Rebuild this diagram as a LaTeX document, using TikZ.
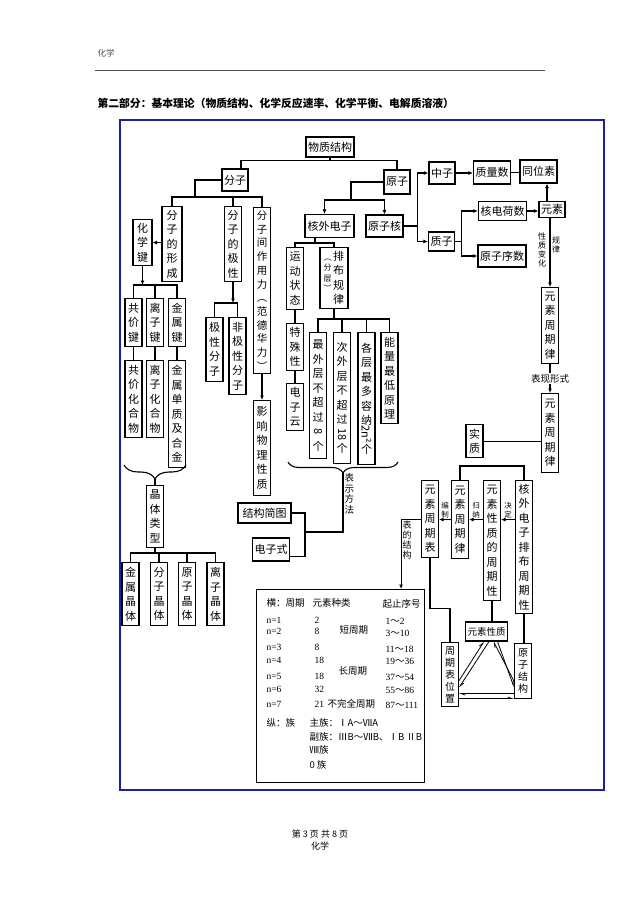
\documentclass[tikz,border=0pt]{standalone}
\usepackage{fontspec}
\usepackage{graphicx}
\setmainfont{Noto Sans CJK SC}
\newfontfamily\tnr{Liberation Serif}
\usetikzlibrary{arrows.meta,decorations.pathreplacing}
\definecolor{frameblue}{HTML}{1C1CA8}
\definecolor{headgray}{HTML}{505050}
\tikzset{
    hbox/.style={
        draw, line width=1.1pt, inner xsep=2pt, inner ysep=1pt,
        minimum height=22pt, font=\fontsize{11}{13}\selectfont
    },
    vbox/.style={
        draw, line width=1.1pt, anchor=north, align=center,
        inner xsep=2.5pt, inner ysep=2pt, minimum width=17pt,
        font=\fontsize{11}{14.5}\selectfont
    },
    vsmall/.style={vbox, font=\fontsize{10}{12}\selectfont},
    note/.style={inner sep=1pt, align=center, font=\fontsize{8}{9}\selectfont},
    notes/.style={inner sep=1pt, align=center, font=\fontsize{7.5}{8.5}\selectfont},
    notem/.style={inner sep=1pt, align=center, font=\fontsize{9.5}{10.5}\selectfont},
    tabtxt/.style={anchor=base west, inner sep=0pt, font=\fontsize{9.5}{11}\selectfont},
    arr/.style={-{Latex[length=4.5pt,width=4pt]}},
    harpend/.style={line width=0.8pt, -{Straight Barb[harpoon,length=4pt,width=3pt]}},
    harpstart/.style={line width=0.8pt, {Straight Barb[harpoon,length=4pt,width=3pt]}-},
    brc/.style={decorate, decoration={brace, mirror, amplitude=#1}},
}

\begin{document}
\begin{tikzpicture}[x=1pt, y=-1pt, line width=1.1pt]
    \useasboundingbox (0,0) rectangle (640,905);
    \fill[white] (0,0) rectangle (640,905);

    % page head and frame
    \node[anchor=west, inner sep=0, text=headgray, font=\fontsize{8.5}{10}\selectfont] (hdr) at (97,53) {化学};
    \draw[headgray, line width=1.7pt] (95,70.5) -- (545,70.5);
    \node[anchor=west, inner sep=0, font=\fontsize{10.8}{13}\selectfont\bfseries] (ttl) at (97,103)
        {第二部分：基本理论（物质结构、化学反应速率、化学平衡、电解质溶液）};
    \draw[frameblue, line width=2.6pt] (120,120) rectangle (604,790);
    \node[inner sep=0, font=\fontsize{9}{10}\selectfont] (pgno) at (320,834) {第 3 页 共 8 页};
    \node[inner sep=0, font=\fontsize{9}{10}\selectfont] (ftr) at (320,846) {化学};

    % top
    \node[hbox, minimum width=48pt, minimum height=20pt] (wzjg) at (330,147) {物质结构};
    \node[hbox, minimum width=26pt] (fz) at (235,180) {分子};
    \node[hbox, minimum width=24pt, minimum height=24pt] (yz) at (397,182) {原子};

    % molecule side
    \node[vbox, minimum height=75pt, minimum width=20pt] (fzdxc) at (172,206) {分\\子\\的\\形\\成};
    \node[vbox, minimum height=75pt] (fzdjx) at (233,206) {分\\子\\的\\极\\性};
    \node[vbox, minimum height=166pt, font=\fontsize{10.5}{13.7}\selectfont] (fzjzy) at (262,207)
        {分\\子\\间\\作\\用\\力\\︵\\范\\德\\华\\力\\︶};
    \node[vbox, minimum height=95pt] (yxwl) at (262,400) {影\\响\\物\\理\\性\\质};
    \node[vbox, minimum height=46pt, minimum width=19pt] (hxj) at (142.5,219) {化\\学\\键};
    \node[vbox, minimum height=48pt] (gjj) at (133.5,298) {共\\价\\键};
    \node[vbox, minimum height=48pt] (lzj) at (155,298) {离\\子\\键};
    \node[vbox, minimum height=48pt] (jsj) at (177,298) {金\\属\\键};
    \node[vbox, minimum height=77pt] (gjhhw) at (133.5,360) {共\\价\\化\\合\\物};
    \node[vbox, minimum height=77pt] (lzhhw) at (155,360) {离\\子\\化\\合\\物};
    \node[vbox, minimum height=107pt] (jsdz) at (177,360) {金\\属\\单\\质\\及\\合\\金};
    \node[vbox, minimum height=62pt] (jtlx) at (155,485) {晶\\体\\类\\型};
    \node[vbox, minimum height=63pt] (jsjt) at (130.5,562) {金\\属\\晶\\体};
    \node[vbox, minimum height=63pt] (fzjt) at (159,562) {分\\子\\晶\\体};
    \node[vbox, minimum height=63pt] (yzjt) at (187,562) {原\\子\\晶\\体};
    \node[vbox, minimum height=63pt] (lzjt) at (215.5,562) {离\\子\\晶\\体};
    \node[vbox, minimum height=64pt] (jxfz) at (214.5,317) {极\\性\\分\\子};
    \node[vbox, minimum height=77pt] (fjxfz) at (237.5,317) {非\\极\\性\\分\\子};

    % electrons
    \node[hbox, minimum width=49pt, minimum height=23pt] (hwdz) at (329.5,226) {核外电子};
    \node[hbox, minimum width=37pt] (yzh) at (384.5,226) {原子核};
    \node[vbox, minimum height=62pt] (ydzt) at (295,247) {运\\动\\状\\态};
    \node[draw, line width=1.1pt, anchor=north, inner xsep=2pt, inner ysep=2pt,
        minimum width=28pt, minimum height=61pt, font=\fontsize{11}{14.5}\selectfont] (pbgl) at (334,247)
        {\parbox[t]{9pt}{\centering\fontsize{8}{10.5}\selectfont ︵\\分\\层\\︶}\parbox[t]{13pt}{\centering 排\\布\\规\\律}};
    \node[vbox, minimum height=47pt] (tsx) at (295,323) {特\\殊\\性};
    \node[vbox, minimum height=47pt] (dzy) at (295,383) {电\\子\\云};
    \node[vbox, minimum height=126pt] (zwc) at (318,332) {最\\外\\层\\不\\超\\过\\\rotatebox[origin=c]{-90}{8}\\个};
    \node[vbox, minimum height=131pt] (cwc) at (342,332) {次\\外\\层\\不\\超\\过\\\rotatebox[origin=c]{-90}{18}\\个};
    \node[vbox, minimum height=132pt] (gczd) at (366.5,332) {各\\层\\最\\多\\容\\纳\\\rotatebox[origin=c]{-90}{2n²}\\个};
    \node[vbox, minimum height=91pt] (nlzd) at (389.5,332) {能\\量\\最\\低\\原\\理};
    \node[hbox, minimum width=53pt, minimum height=20pt] (jgjt) at (264.5,513) {结构简图};
    \node[hbox, minimum width=36pt, minimum height=23pt] (dzs) at (271,549.5) {电子式};

    % nucleus and periodic law
    \node[hbox, minimum width=26pt] (zz) at (442,173) {中子};
    \node[hbox, minimum width=36pt, minimum height=23pt] (zls) at (492,172.5) {质量数};
    \node[hbox, minimum width=35pt, minimum height=23pt] (twc) at (538.5,171.5) {同位素};
    \node[hbox, minimum width=25pt, minimum height=19pt] (zzp) at (441.5,241.5) {质子};
    \node[hbox, minimum width=47pt, minimum height=19pt] (hdhs) at (502.5,211) {核电荷数};
    \node[hbox, minimum width=46pt] (yzxs) at (502,256) {原子序数};
    \node[hbox, minimum width=26pt, minimum height=16pt] (ys) at (552,209.5) {元素};
    \node[vbox, minimum height=76pt] (yszqgl) at (550,287) {元\\素\\周\\期\\律};
    \node[vbox, minimum height=79pt] (yszqglb) at (550,393) {元\\素\\周\\期\\律};
    \node[vbox, minimum height=33pt] (sz) at (474.5,424) {实\\质};
    \node[vbox, minimum height=77pt] (yszqb) at (430,480) {元\\素\\周\\期\\表};
    \node[vbox, minimum height=78pt] (yszqglc) at (460,480) {元\\素\\周\\期\\律};
    \node[vbox, minimum height=120pt] (xzzqx) at (492,480) {元\\素\\性\\质\\的\\周\\期\\性};
    \node[vbox, minimum height=133pt] (pbzqx) at (524,480) {核\\外\\电\\子\\排\\布\\周\\期\\性};
    \node[hbox, minimum width=41pt, minimum height=19pt, font=\fontsize{9.5}{11}\selectfont] (ysxz) at (486.5,631.5) {元素性质};
    \node[vsmall, minimum height=64pt] (zqbwz) at (450,642) {周\\期\\表\\位\\置};
    \node[vsmall, minimum height=55pt] (yzjgo) at (523,643) {原\\子\\结\\构};

    % table
    \node[draw, line width=1.1pt, inner sep=0pt, minimum width=168pt, minimum height=193pt, anchor=north west] (tbl) at (256,589) {};
    \node[tabtxt] (hzq) at (266,606.5) {横：周期};
    \node[tabtxt] (yszl) at (312,606.5) {元素种类};
    \node[tabtxt] (qzxh) at (382,607.5) {起止序号};
    \foreach \nn/\kk/\lo/\hi/\ya/\yb in {1/2/1/2/623/624, 2/8/3/10/634/636, 3/8/11/18/650/652,
        4/18/19/36/663/664.5, 5/18/37/54/679.5/680, 6/32/55/86/692/693.5, 7/21/87/111/707.5/708.5}
    {
        \node[tabtxt] (n\nn) at (266,\ya) {\tnr n=\nn};
        \node[tabtxt] (k\nn) at (314,\ya) {\tnr \kk};
        \node[tabtxt] (r\nn) at (385,\yb) {{\tnr\lo}～{\tnr\hi}};
    }
    \node[tabtxt] (dzq) at (339,633.5) {短周期};
    \node[tabtxt] (czq) at (338,674.5) {长周期};
    \node[tabtxt] (bwq) at (327,707.5) {不完全周期};
    \node[tabtxt] (zzu) at (266,726) {纵：族};
    \node[tabtxt] (zhz) at (309,726) {主族：ⅠA～ⅦA};
    \node[tabtxt] (fuz) at (309,740) {副族：ⅢB～ⅦB、ⅠB ⅡB};
    \node[tabtxt] (bzu) at (309,753.5) {Ⅷ族};
    \node[tabtxt] (lzu) at (309,768) {0 族};

    % connectors: top
    \draw (wzjg.south) -- ++(0,3) coordinate (b0);
    \draw ([xshift=6pt]fz.north) |- (b0) -| (yz.north);

    % molecule branch
    \coordinate (b1) at (195,197);
    \draw (fz.west) -| (b1);
    \draw (fzdxc.north) |- (b1) -| (fzjzy.north);
    \draw (fzdjx.north) -- (fzdjx.north |- b1);
    \draw[arr] (hxj.east -| fzdxc.west) -- (hxj.east);
    \coordinate (b2) at (142.5,285);
    \draw[arr] (hxj.south) -- (b2);
    \draw (gjj.north) |- (b2) -| (jsj.north);
    \draw (lzj.north) -- (lzj.north |- b2);
    \draw (gjj) -- (gjhhw);
    \draw (lzj) -- (lzhhw);
    \draw (jsj) -- (jsdz);
    \draw[brc=14pt] (124,465) -- (186,465);
    \coordinate (lb) at (155,479);
    \draw (lb) -- (jtlx.north);
    \coordinate (b7) at (155,553);
    \draw (jtlx.south) -- (b7);
    \draw (jsjt.north) |- (b7) -| (lzjt.north);
    \draw (fzjt.north) -- (fzjt.north |- b7);
    \draw (yzjt.north) -- (yzjt.north |- b7);
    \coordinate (b6) at (233,303);
    \draw[arr] (fzdjx.south) -- (b6);
    \draw (jxfz.north) |- (b6) -| (fjxfz.north);
    \draw[arr] (fzjzy) -- (yxwl);

    % atom branch
    \coordinate (b3) at (351,200);
    \draw (yz.west) -| (b3);
    \draw[arr] (b3) -| ([xshift=-5pt]hwdz.north);
    \draw[arr] (b3) -| (yzh.north);
    \coordinate (b4) at (315,243);
    \draw (hwdz.south -| b4) -- (b4);
    \draw (ydzt.north) |- (b4) -| (pbgl.north);
    \draw (ydzt) -- (tsx) -- (dzy);
    \coordinate (b5) at (334,319);
    \draw (pbgl.south) -- (b5);
    \draw (zwc.north) |- (b5) -| (nlzd.north);
    \draw (cwc.north) -- (cwc.north |- b5);
    \draw (gczd.north) -- (gczd.north |- b5);
    \draw[brc=11pt] (288,462) -- (398,462);
    \coordinate (rb) at (343,473);
    \coordinate (rj) at (305,532);
    \draw (rb) -- (rb |- rj) node[notem, pos=0.35, right] {表\\示\\方\\法} -- (rj);
    \draw (jgjt.east) -| (rj) |- ([yshift=-7pt]dzs.east);

    % nucleus
    \draw[arr] (yzh.east) -- ++(14,0) |- (zz.west);
    \draw[arr] (yzh.east) -- ++(14,0) |- (zzp.west);
    \draw[arr] (zz.east) -- (zz.east -| zls.west);
    \draw (zls.east) -- (zls.east -| twc.west);
    \draw[arr] (zzp.east) -- ++(6,0) |- (hdhs.west);
    \draw[arr] (zzp.east) -- ++(6,0) |- (yzxs.west);
    \draw[arr] (hdhs.east) -- (hdhs.east -| ys.west);
    \draw[arr] ([xshift=-5pt]ys.north) -- ([xshift=-5pt]ys.north |- twc.south);
    \draw[arr] (yszqgl.north |- ys.south) -- (yszqgl.north);
    \node[note] (xzbh) at (542,250) {性\\质\\变\\化};
    \node[note] (gl) at (556,245) {规\\律};
    \draw[arr] (yszqgl.south) -- (yszqglb.north)
        node[midway, fill=white, inner sep=1pt, font=\fontsize{9.5}{11}\selectfont] {表现形式};
    \draw (sz.east) -- (sz.east -| yszqglb.west);

    % lower right
    \draw (yszqglc.north) -- ++(0,-14) -| (pbzqx.north);
    \draw[arr] (pbzqx.west |- yszqglc.east) -- (xzzqx.east |- yszqglc.east) node[notes, midway, above] {决\\定};
    \draw[arr] (xzzqx.west |- yszqglc.east) -- (yszqglc.east) node[notes, midway, above] {归\\纳};
    \draw[arr] (yszqglc.west) -- (yszqglc.west -| yszqb.east) node[notes, midway, above] {编\\制};
    \draw[arr] (yszqb.west) -| ([xshift=-24pt]tbl.north east)
        node[pos=0.65, right, inner sep=1pt, align=center, font=\fontsize{9}{10}\selectfont] {表\\的\\结\\构};
    \draw (yszqb.south) -- ++(0,50) -| (zqbwz.north);
    \draw (xzzqx.south) -- (xzzqx.south |- ysxz.north);
    \draw (pbzqx.south) -- (pbzqx.south |- yzjgo.north);
    \draw[harpstart] ([xshift=-2.5pt]ysxz.south) -- ([yshift=-6pt]zqbwz.east);
    \draw[harpend] ([xshift=2.5pt]ysxz.south) -- ([yshift=-13pt]zqbwz.east);
    \draw[harpstart] ([xshift=7pt]ysxz.south) -- ([yshift=-10pt]yzjgo.west);
    \draw[harpend] ([xshift=11pt]ysxz.south) -- ([yshift=-16pt]yzjgo.west);
    \draw[harpstart] ([yshift=-19pt]zqbwz.east) -- ([yshift=-19pt]zqbwz.east -| yzjgo.west);
    \draw[harpend] ([yshift=-24pt]zqbwz.east) -- ([yshift=-24pt]zqbwz.east -| yzjgo.west);
\end{tikzpicture}
\end{document}
